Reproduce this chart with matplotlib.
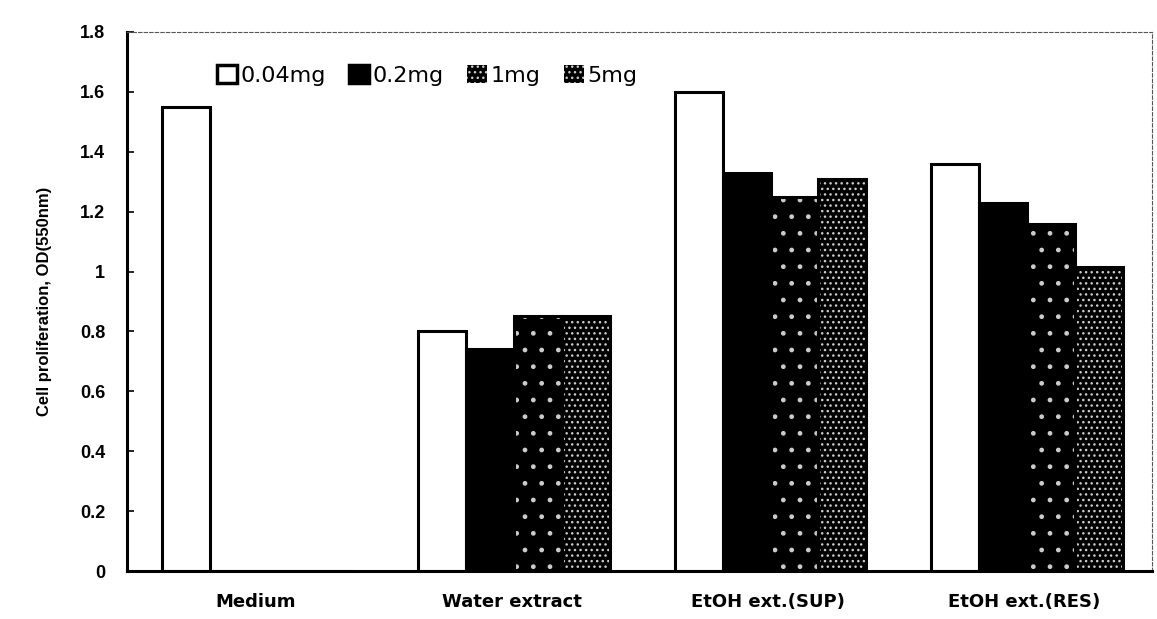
import numpy as np
import matplotlib
matplotlib.use("Agg")
import matplotlib.pyplot as plt

# Data
categories = ["Medium", "Water extract", "EtOH ext.(SUP)", "EtOH ext.(RES)"]
doses = ["0.04mg", "0.2mg", "1mg", "5mg"]
od_004 = [1.55, 0.80, 1.60, 1.36]
od_02 = [0.0, 0.74, 1.33, 1.23]
od_1 = [0.0, 0.85, 1.25, 1.16]
od_5 = [0.0, 0.85, 1.31, 1.015]
yticks = [0, 0.2, 0.4, 0.6, 0.8, 1, 1.2, 1.4, 1.6, 1.8]

plt.rcParams['font.family'] = ['Liberation Sans', 'DejaVu Sans']
plt.rcParams['hatch.linewidth'] = 1.0

fig = plt.figure(figsize=(11.57, 6.19), dpi=100)
ax = fig.add_axes([0.110, 0.0775, 0.886, 0.871])

x = np.arange(len(categories))
width = 0.187
offsets = np.array([-1.5, -0.5, 0.5, 1.5]) * width + 0.01

series = [od_004, od_02, od_1, od_5]
styles = [
    dict(face="white", hatch=None),
    dict(face="black", hatch=None),
    dict(face="black", hatch="."),
    dict(face="black", hatch="..."),
]

handles = []
for vals, off, st in zip(series, offsets, styles):
    vals = np.array(vals)
    if st["hatch"]:
        ax.bar(x + off, vals, width, color=st["face"], edgecolor="#cccccc",
               hatch=st["hatch"], linewidth=0)
        handles.append(plt.Rectangle((0, 0), 1, 1, facecolor="black", edgecolor="#cccccc",
                                     hatch="...", linewidth=0))
    else:
        ax.bar(x + off, vals, width, color=st["face"], linewidth=0)
        handles.append(plt.Rectangle((0, 0), 1, 1, facecolor=st["face"],
                                     edgecolor="black", linewidth=2.5))
    ax.bar(x + off, vals, width, fill=False, edgecolor="black", linewidth=2.2)

ax.set_xlim(-0.5, 3.5)
ax.set_ylim(0, 1.8)
ax.set_yticks(yticks)
ax.set_yticklabels(["%g" % t for t in yticks], fontsize=13, fontweight="bold")
ax.set_xticks(x)
ax.set_xticklabels(categories, fontsize=13, fontweight="bold", family="DejaVu Sans")
ax.tick_params(axis="x", length=0, pad=16)
ax.tick_params(axis="y", direction="in", length=5, width=1.2, pad=16)
ax.set_ylabel("Cell proliferation, OD(550nm)", fontsize=12, fontweight="bold", labelpad=20)

for s in ["left", "bottom"]:
    ax.spines[s].set_linewidth(2.2)
for s in ["top", "right"]:
    ax.spines[s].set_linewidth(0.8)
    ax.spines[s].set_linestyle((0, (3, 2)))
    ax.spines[s].set_color("#555555")

leg = ax.legend(handles, doses, ncol=4, frameon=False,
                prop={"family": "DejaVu Sans", "size": 16},
                loc="upper left", bbox_to_anchor=(0.079, 0.955),
                handlelength=0.9, handleheight=0.9, handletextpad=0.15,
                columnspacing=1.05, borderaxespad=0)

fig.savefig("out.png", dpi=100)
